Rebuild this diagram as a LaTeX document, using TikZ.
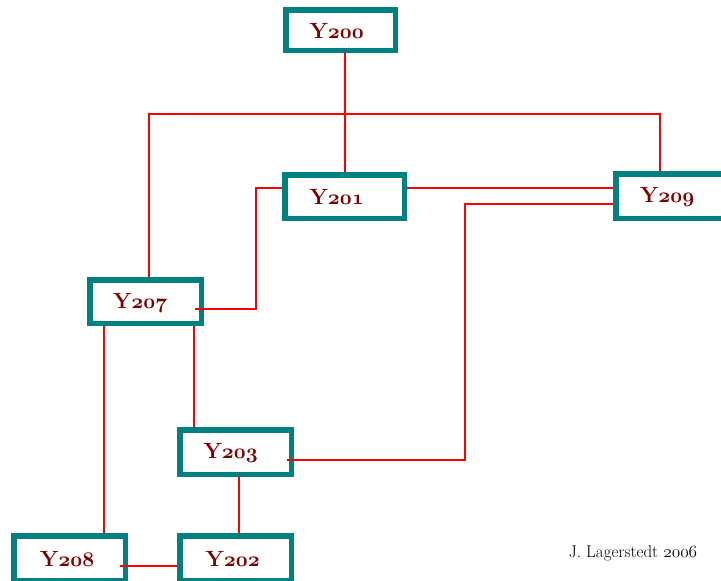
\documentclass[tikz,border=0pt]{standalone}
\definecolor{boxteal}{RGB}{0,128,128}
\definecolor{linkred}{RGB}{255,0,0}
\definecolor{labred}{RGB}{128,0,0}
\newcommand{\osnb}[1]{{\usefont{OML}{cmm}{b}{it}#1}}
\newcommand{\osnm}[1]{{\usefont{OML}{cmm}{m}{it}#1}}
\tikzset{
  ybox/.style={draw=boxteal, line width=5.5pt, fill=white, inner sep=0pt},
  ylab/.style={text=labred, font=\fontsize{22}{26}\selectfont\bfseries, inner sep=0pt},
  link/.style={draw=linkred, line width=1.8pt},
  credit/.style={font=\fontsize{17}{20}\selectfont, inner sep=0pt}
}
\begin{document}
\begin{tikzpicture}[x=1pt,y=-1pt]
\useasboundingbox (0,0) rectangle (721,581);
\clip (0,0) rectangle (721,581);
% boxes (outer size minus line width)
\node[ybox, minimum width=109.5pt, minimum height=40.5pt] (Y200) at (340.5,30) {};
\node[ybox, minimum width=119.5pt, minimum height=43.5pt] (Y201) at (344.5,196.5) {};
\node[ybox, minimum width=109.5pt, minimum height=44.5pt] (Y209) at (670.5,196) {};
\node[ybox, minimum width=111.5pt, minimum height=43.5pt] (Y207) at (145.5,301.5) {};
\node[ybox, minimum width=111.5pt, minimum height=44.5pt] (Y203) at (235.5,452) {};
\node[ybox, minimum width=111.5pt, minimum height=44.5pt] (Y202) at (235.5,558) {};
\node[ybox, minimum width=111.5pt, minimum height=44.5pt] (Y208) at (69.5,558) {};
% labels
\node[ylab] (t200) at ([xshift=-4pt,yshift=-0.5pt]Y200.center) {Y\osnb{200}};
\node[ylab] (t201) at ([xshift=-8pt,yshift=-0.5pt]Y201.center) {Y\osnb{201}};
\node[ylab] (t209) at ([xshift=-3.5pt,yshift=-0.5pt]Y209.center) {Y\osnb{209}};
\node[ylab] (t207) at ([xshift=-5.5pt,yshift=-1pt]Y207.center) {Y\osnb{207}};
\node[ylab] (t203) at ([xshift=-5pt,yshift=-0.5pt]Y203.center) {Y\osnb{203}};
\node[ylab] (t202) at ([xshift=-3pt,yshift=-0.5pt]Y202.center) {Y\osnb{202}};
\node[ylab] (t208) at ([xshift=-2.5pt,yshift=-0.5pt]Y208.center) {Y\osnb{208}};
% helper coordinates
\coordinate (bus) at (345,114);
\coordinate (k1) at (256,250);
\coordinate (k2) at (465,300);
\coordinate (p207) at ([xshift=49.5pt,yshift=-7.5pt]Y207.center);
\coordinate (p203) at ([xshift=51.5pt,yshift=-8pt]Y203.center);
\coordinate (p208) at ([xshift=50.5pt,yshift=-8pt]Y208.center);
% connectors
\draw[link] ([xshift=4.5pt]Y200.south) -- ([xshift=4.5pt]Y200.south |- Y201.north);
\draw[link] ([xshift=3.5pt]Y207.north) |- (bus) -| ([xshift=-10.5pt]Y209.north);
\draw[link] ([yshift=8.5pt]Y201.west) -| (k1) |- (p207);
\draw[link] ([yshift=8.5pt]Y201.east) -- ([yshift=8.5pt]Y201.east -| Y209.west);
\draw[link] ([yshift=-8pt]Y209.west) -| (k2) |- (p203);
\draw[link] ([xshift=-41.5pt]Y207.south) -- ([xshift=-41.5pt]Y207.south |- Y208.north);
\draw[link] ([xshift=48.5pt]Y207.south) -- ([xshift=48.5pt]Y207.south |- Y203.north);
\draw[link] ([xshift=3.5pt]Y203.south) -- ([xshift=3.5pt]Y203.south |- Y202.north);
\draw[link] (p208) -- (p208 -| Y202.west);
% credit
\node[credit] (credit) at (633,553) {J. Lagerstedt \osnm{2006}};
\end{tikzpicture}
\end{document}
